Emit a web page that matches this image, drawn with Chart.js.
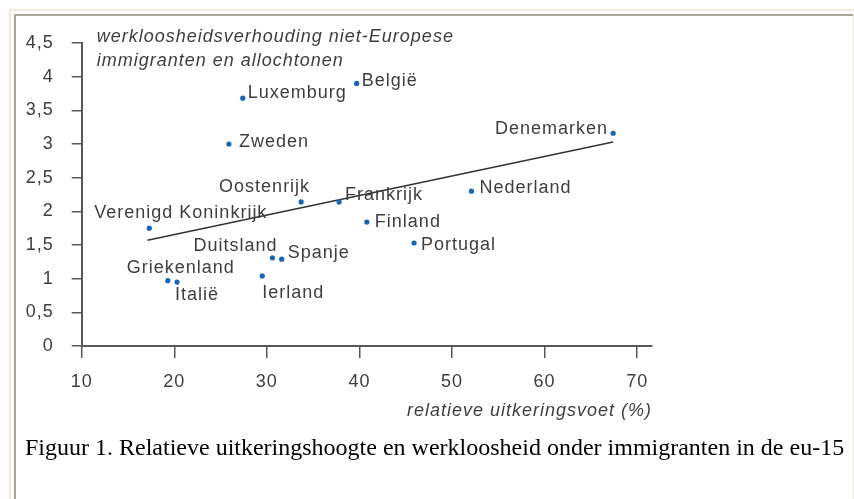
<!DOCTYPE html>
<html>
<head>
<meta charset="utf-8">
<script src="https://cdn.jsdelivr.net/npm/chart.js@4/dist/chart.umd.min.js"></script>
<style>
  html, body { margin: 0; padding: 0; background: #ffffff; }
  #wrap { width: 854px; height: 499px; position: relative; }
  canvas { display: block; }
</style>
</head>
<body>
<div id="wrap"><canvas id="c" width="854" height="499"></canvas></div>
<script>
// ---- data ----
const countries = ["Verenigd Koninkrijk", "Griekenland", "Italië", "Zweden", "Luxemburg", "Ierland",
  "Duitsland", "Spanje", "Oostenrijk", "Frankrijk", "België", "Finland", "Portugal", "Nederland", "Denemarken"];
const uitkeringsvoet = [17.3, 19.3, 20.3, 25.9, 27.4, 29.5, 30.6, 31.6, 33.7, 37.8, 39.7, 40.8, 45.9, 52.1, 67.4];
const werkloosheid = [1.75, 0.97, 0.95, 3.0, 3.68, 1.04, 1.31, 1.29, 2.14, 2.14, 3.9, 1.84, 1.53, 2.30, 3.16];
const trendX = [17.1, 67.4];
const trendY = [1.57, 3.03];
const xTickValues = [10, 20, 30, 40, 50, 60, 70];
const yTickValues = [0, 0.5, 1, 1.5, 2, 2.5, 3, 3.5, 4, 4.5];
const yTitleLines = ["werkloosheidsverhouding niet-Europese", "immigranten en allochtonen"];
const xTitle = "relatieve uitkeringsvoet (%)";
const caption = "Figuur 1. Relatieve uitkeringshoogte en werkloosheid onder immigranten in de eu-15";

// ---- label placement (styling only): [dx, dy, align] relative to each point ----
const labelPlacement = {
  "Verenigd Koninkrijk": [-55, -15, "left"],
  "Griekenland": [-41, -13, "left"],
  "Italië": [-2, 13, "left"],
  "Zweden": [10, -2, "left"],
  "Luxemburg": [5, -5, "left"],
  "Ierland": [0, 17, "left"],
  "Duitsland": [5, -12, "right"],
  "Spanje": [6, -6, "left"],
  "Oostenrijk": [9, -15, "right"],
  "Frankrijk": [6, -7, "left"],
  "België": [5, -2, "left"],
  "Finland": [8, 0, "left"],
  "Portugal": [7, 2, "left"],
  "Nederland": [8, -3, "left"],
  "Denemarken": [-5, -4, "right"]
};

const TEXT = '#3e3e3e';
const AXIS = '#585858';
const FONT = '"Liberation Sans", Arial, sans-serif';

const points = uitkeringsvoet.map((x, i) => ({ x: x, y: werkloosheid[i] }));
const trend = trendX.map((x, i) => ({ x: x, y: trendY[i] }));

const decor = {
  id: 'decor',
  beforeDraw(chart) {
    const ctx = chart.ctx;
    ctx.save();
    ctx.fillStyle = '#ffffff';
    ctx.fillRect(0, 0, chart.width, chart.height);
    // frame
    ctx.lineWidth = 2;
    ctx.strokeStyle = '#efeadb';
    ctx.beginPath();
    ctx.moveTo(10, chart.height); ctx.lineTo(10, 10); ctx.lineTo(chart.width, 10);
    ctx.stroke();
    ctx.strokeStyle = '#aaa69a';
    ctx.beginPath();
    ctx.moveTo(15, chart.height); ctx.lineTo(15, 15); ctx.lineTo(chart.width - 1, 15);
    ctx.stroke();
    ctx.lineWidth = 1;
    ctx.strokeStyle = '#e8e6e0';
    ctx.beginPath();
    ctx.moveTo(853.5, 15); ctx.lineTo(853.5, chart.height);
    ctx.stroke();
    ctx.restore();
    ctx.letterSpacing = '1px';
  },
  afterDraw(chart) {
    const ctx = chart.ctx;
    const area = chart.chartArea;
    const meta = chart.getDatasetMeta(0);
    ctx.save();
    ctx.letterSpacing = '1px';
    ctx.fillStyle = TEXT;
    ctx.font = '18px ' + FONT;
    ctx.textBaseline = 'middle';
    meta.data.forEach((el, i) => {
      const name = countries[i];
      const p = labelPlacement[name] || [6, 0, 'left'];
      ctx.textAlign = p[2];
      ctx.fillText(name, el.x + p[0], el.y + p[1]);
    });
    // y axis title (horizontal, top-left)
    ctx.font = 'italic 18px ' + FONT;
    ctx.textAlign = 'left';
    yTitleLines.forEach((t, i) => {
      ctx.fillText(t, area.left + 15, area.top - 6 + i * 24);
    });
    // caption
    ctx.letterSpacing = '0px';
    ctx.fillStyle = '#000000';
    ctx.font = '24px "Liberation Serif", "Times New Roman", serif';
    ctx.textBaseline = 'alphabetic';
    ctx.textAlign = 'left';
    ctx.fillText(caption, 25, 455);
    ctx.restore();
    ctx.letterSpacing = '0px';
  }
};

new Chart(document.getElementById('c'), {
  type: 'scatter',
  data: {
    datasets: [
      {
        data: points,
        backgroundColor: '#1766b5',
        borderColor: '#1766b5',
        borderWidth: 0,
        pointRadius: 2.6,
        pointStyle: 'circle'
      },
      {
        type: 'line',
        data: trend,
        borderColor: '#333333',
        borderWidth: 1.4,
        pointRadius: 0,
        fill: false,
        showLine: true
      }
    ]
  },
  options: {
    responsive: false,
    devicePixelRatio: 1,
    animation: false,
    layout: { padding: { left: 0, top: 43, right: 202, bottom: 0 } },
    plugins: { legend: { display: false }, tooltip: { enabled: false }, title: { display: false } },
    scales: {
      x: {
        type: 'linear',
        min: 10,
        max: 71.6,
        afterFit(scale) { scale.height = 153; },
        afterBuildTicks(scale) { scale.ticks = xTickValues.map(v => ({ value: v })); },
        ticks: { color: TEXT, font: { family: FONT, size: 18 }, padding: 13, maxRotation: 0, autoSkip: false },
        grid: { display: true, drawOnChartArea: false, drawTicks: true, tickLength: 12, color: AXIS, lineWidth: 1.5 },
        border: { display: true, color: AXIS, width: 2 },
        title: {
          display: true, text: xTitle, align: 'end', color: TEXT,
          font: { family: FONT, size: 18, style: 'italic' },
          padding: { top: 0, bottom: 77 }
        }
      },
      y: {
        type: 'linear',
        min: 0,
        max: 4.5,
        afterFit(scale) { scale.width = 81.7; },
        afterBuildTicks(scale) { scale.ticks = yTickValues.map(v => ({ value: v })); },
        ticks: {
          color: TEXT, font: { family: FONT, size: 18 }, padding: 18,
          callback: v => String(v).replace('.', ',')
        },
        grid: { display: true, drawOnChartArea: false, drawTicks: true, tickLength: 10, color: AXIS, lineWidth: 1.5 },
        border: { display: true, color: AXIS, width: 2 }
      }
    }
  },
  plugins: [decor]
});
</script>
</body>
</html>
